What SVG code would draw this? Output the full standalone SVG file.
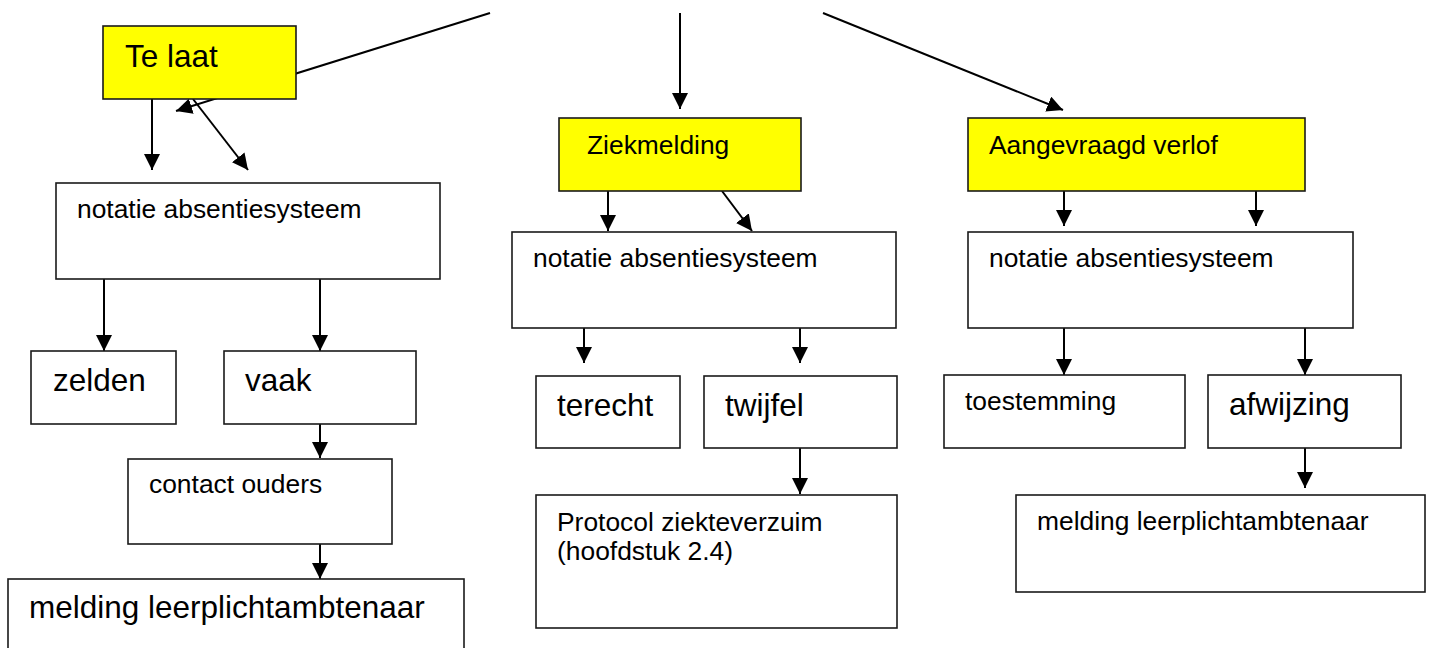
<svg xmlns="http://www.w3.org/2000/svg" width="1430" height="648" viewBox="0 0 1430 648">
<style>
.box{fill:#ffffff;stroke:#1a1a1a;stroke-width:1.6}
.hl{fill:#ffff00;stroke:#1a1a1a;stroke-width:1.6}
.c{stroke:#000;stroke-width:2;fill:none;marker-end:url(#ah)}
.t{font-family:"Liberation Sans",Arial,Helvetica,sans-serif;fill:#000}
.s{font-size:26.4px}
.l{font-size:31.5px}
</style>
<defs>
<marker id="ah" markerUnits="userSpaceOnUse" markerWidth="16" markerHeight="16" refX="15" refY="7.5" orient="auto" viewBox="0 0 15 15">
<path d="M0,0 L15,7.5 L0,15 z" fill="#000"/>
</marker>
</defs>
<g id="connectors">
<line class="c" x1="490" y1="13" x2="176" y2="111"/>
<line class="c" x1="680" y1="13" x2="680" y2="109"/>
<line class="c" x1="823" y1="13" x2="1063" y2="110"/>
<line class="c" x1="152" y1="99" x2="152" y2="170"/>
<line class="c" x1="193" y1="99" x2="248" y2="170"/>
<line class="c" x1="104" y1="279" x2="104" y2="351"/>
<line class="c" x1="320" y1="279" x2="320" y2="351"/>
<line class="c" x1="320" y1="424" x2="320" y2="458"/>
<line class="c" x1="320" y1="544" x2="320" y2="579"/>
<line class="c" x1="608" y1="191" x2="608" y2="231"/>
<line class="c" x1="722" y1="191" x2="752" y2="231"/>
<line class="c" x1="584" y1="328" x2="584" y2="363"/>
<line class="c" x1="800" y1="328" x2="800" y2="363"/>
<line class="c" x1="800" y1="448" x2="800" y2="494"/>
<line class="c" x1="1064" y1="191" x2="1064" y2="226"/>
<line class="c" x1="1256" y1="191" x2="1256" y2="226"/>
<line class="c" x1="1064" y1="328" x2="1064" y2="375"/>
<line class="c" x1="1305" y1="328" x2="1305" y2="375"/>
<line class="c" x1="1305" y1="448" x2="1305" y2="488"/>
</g>
<g id="te-laat"><rect class="hl" x="103" y="26" width="193" height="73"/><text class="t l" x="125" y="67">Te laat</text></g>
<g id="notatie-1"><rect class="box" x="56" y="183" width="384" height="96"/><text class="t s" x="77" y="218">notatie absentiesysteem</text></g>
<g id="zelden"><rect class="box" x="31" y="351" width="145" height="73"/><text class="t l" x="53" y="391">zelden</text></g>
<g id="vaak"><rect class="box" x="224" y="351" width="192" height="73"/><text class="t l" x="245" y="391">vaak</text></g>
<g id="contact-ouders"><rect class="box" x="128" y="459" width="264" height="85"/><text class="t s" x="149" y="493">contact ouders</text></g>
<g id="melding-1"><rect class="box" x="8" y="579" width="456" height="100"/><text class="t l" x="29" y="618">melding leerplichtambtenaar</text></g>
<g id="ziekmelding"><rect class="hl" x="559" y="118" width="242" height="73"/><text class="t s" x="587" y="154">Ziekmelding</text></g>
<g id="notatie-2"><rect class="box" x="512" y="232" width="384" height="96"/><text class="t s" x="533" y="267">notatie absentiesysteem</text></g>
<g id="terecht"><rect class="box" x="536" y="376" width="144" height="72"/><text class="t l" x="557" y="416">terecht</text></g>
<g id="twijfel"><rect class="box" x="704" y="376" width="193" height="72"/><text class="t l" x="725" y="416">twijfel</text></g>
<g id="protocol"><rect class="box" x="536" y="495" width="361" height="133"/><text class="t s" x="557" y="531">Protocol ziekteverzuim</text><text class="t s" x="557" y="560">(hoofdstuk 2.4)</text></g>
<g id="aangevraagd-verlof"><rect class="hl" x="968" y="118" width="337" height="73"/><text class="t s" x="989" y="154">Aangevraagd verlof</text></g>
<g id="notatie-3"><rect class="box" x="968" y="232" width="385" height="96"/><text class="t s" x="989" y="267">notatie absentiesysteem</text></g>
<g id="toestemming"><rect class="box" x="944" y="375" width="241" height="73"/><text class="t s" x="965" y="410">toestemming</text></g>
<g id="afwijzing"><rect class="box" x="1208" y="375" width="193" height="73"/><text class="t l" x="1229" y="415">afwijzing</text></g>
<g id="melding-2"><rect class="box" x="1016" y="495" width="409" height="97"/><text class="t s" x="1037" y="530">melding leerplichtambtenaar</text></g>
</svg>
